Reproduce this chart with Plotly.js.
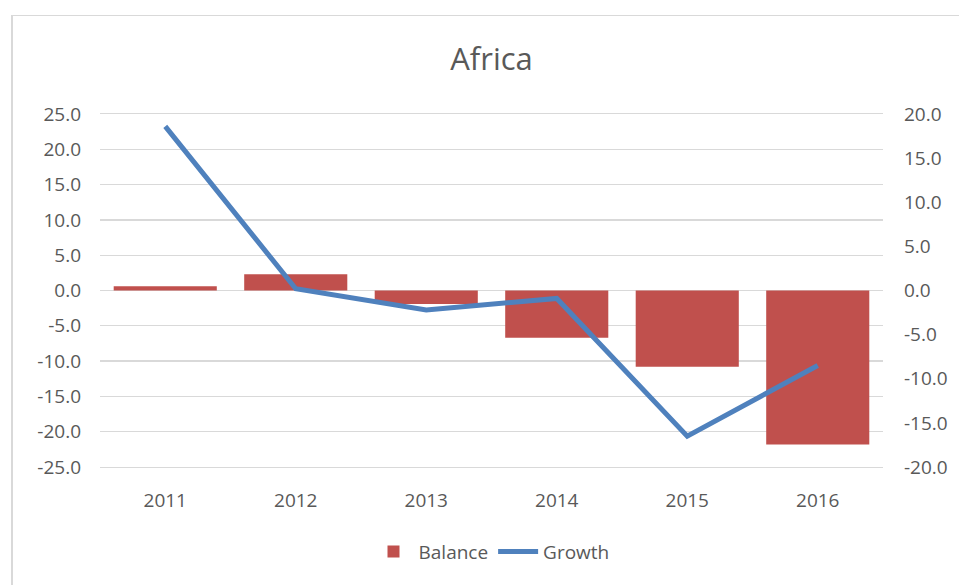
<!DOCTYPE html>
<html>
<head>
<meta charset="utf-8">
<script src="https://cdn.plot.ly/plotly-3.0.1.min.js"></script>
<style>
  html, body { margin: 0; padding: 0; background: #ffffff; }
  #wrap { position: relative; width: 959px; height: 585px; overflow: hidden; }
  #chart { width: 959px; height: 585px; }
  #frame { position: absolute; left: 11px; top: 15px; width: 960px; height: 580px;
           border-left: 2px solid #d9d9d9; border-top: 1px solid #d9d9d9; pointer-events: none; }
</style>
</head>
<body>
<div id="wrap">
  <div id="chart"></div>
  <div id="frame"></div>
</div>
<script>
const years = ['2011', '2012', '2013', '2014', '2015', '2016'];
const balance = [0.6, 2.3, -1.9, -6.7, -10.8, -21.8];
const growth = [18.6, 0.2, -2.2, -0.9, -16.5, -8.5];
const chartTitle = 'Africa';
const seriesNames = ['Balance', 'Growth'];
const leftTickVals = [25, 20, 15, 10, 5, 0, -5, -10, -15, -20, -25];
const leftTickText = ['25.0', '20.0', '15.0', '10.0', '5.0', '0.0', '-5.0', '-10.0', '-15.0', '-20.0', '-25.0'];
const rightTickVals = [20, 15, 10, 5, 0, -5, -10, -15, -20];
const rightTickText = ['20.0', '15.0', '10.0', '5.0', '0.0', '-5.0', '-10.0', '-15.0', '-20.0'];

const textColor = '#595959';
const font = 'Open Sans, Noto Sans, sans-serif';

const traces = [
  {
    type: 'bar', name: seriesNames[0], x: years, y: balance,
    marker: { color: '#C0504D' }, yaxis: 'y', hoverinfo: 'skip'
  },
  {
    type: 'scatter', mode: 'lines', name: seriesNames[1], x: years, y: growth,
    line: { color: '#4F81BD', width: 5 }, yaxis: 'y2', hoverinfo: 'skip'
  }
];

const layout = {
  width: 959, height: 585,
  margin: { l: 100, r: 76, t: 114, b: 118, pad: 0 },
  paper_bgcolor: '#ffffff', plot_bgcolor: '#ffffff',
  font: { family: font, color: textColor, size: 19 },
  title: {
    text: chartTitle, font: { family: font, size: 31, color: textColor },
    x: 0.5, xref: 'paper', xanchor: 'center',
    y: 1 - 59 / 585, yref: 'container', yanchor: 'middle'
  },
  bargap: 0.21,
  xaxis: {
    type: 'category', range: [-0.5, 5.5],
    showgrid: false, zeroline: false,
    showline: true, linecolor: '#d9d9d9', linewidth: 1.3, mirror: true,
    ticks: '', ticklabelstandoff: 16,
    tickfont: { family: font, size: 19, color: textColor }
  },
  yaxis: {
    range: [-25, 25], tickmode: 'array', tickvals: leftTickVals, ticktext: leftTickText,
    showgrid: true, gridcolor: '#d9d9d9', gridwidth: 1.3,
    zeroline: false, showline: false, ticks: '',
    ticklabelstandoff: 18,
    tickfont: { family: font, size: 19, color: textColor }
  },
  yaxis2: {
    overlaying: 'y', side: 'right',
    range: [-20, 20], tickmode: 'array', tickvals: rightTickVals, ticktext: rightTickText,
    showgrid: false, zeroline: false, showline: false, ticks: '',
    ticklabelstandoff: 20,
    tickfont: { family: font, size: 19, color: textColor }
  },
  showlegend: true,
  legend: {
    orientation: 'h', x: 0.5, xanchor: 'center', y: -0.24, yanchor: 'middle',
    font: { family: font, size: 19, color: textColor },
    traceorder: 'normal', itemwidth: 40
  }
};

Plotly.newPlot('chart', traces, layout, { displayModeBar: false, staticPlot: true });
</script>
</body>
</html>
